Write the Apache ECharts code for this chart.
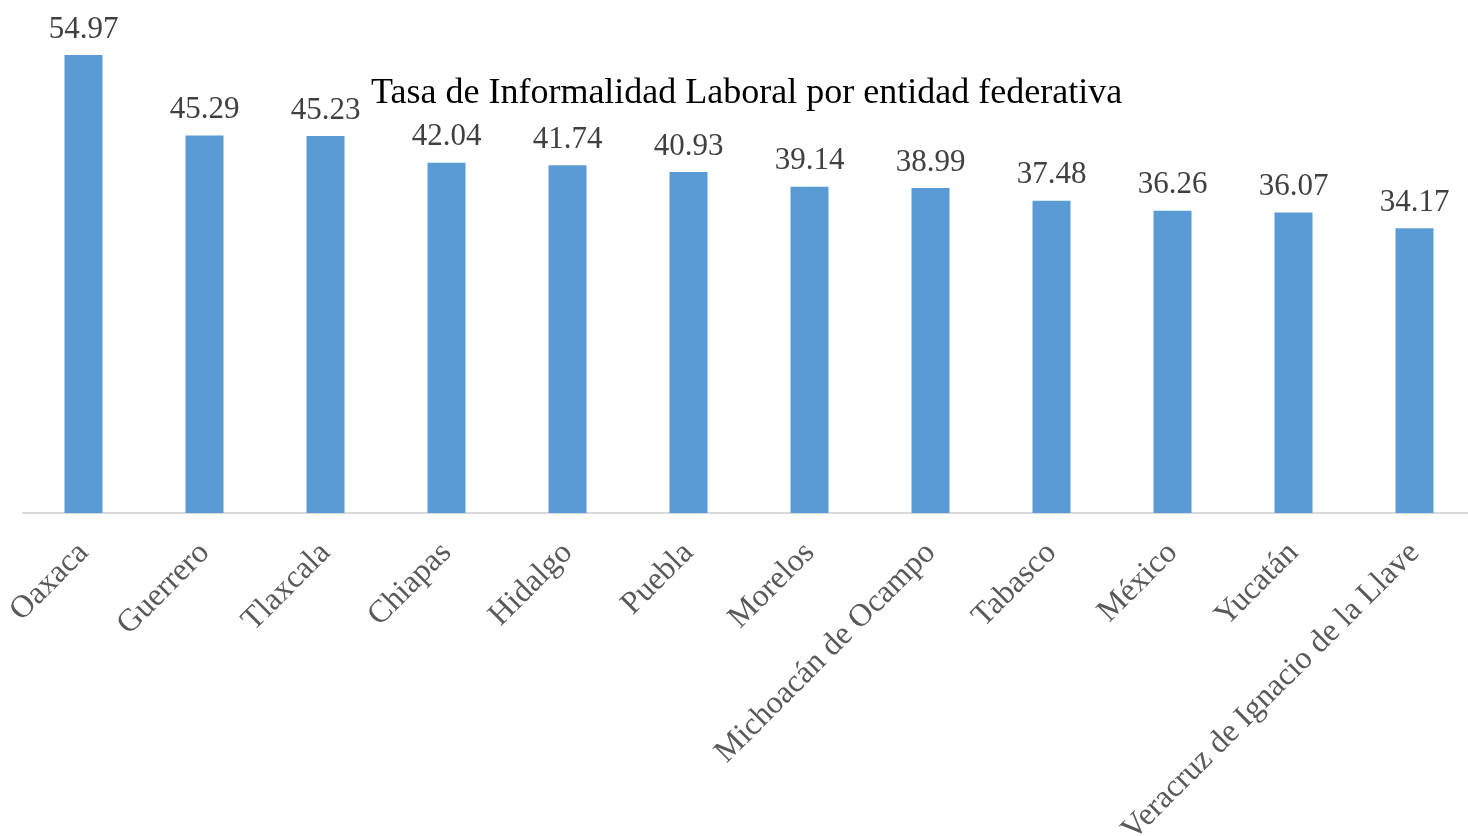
<!DOCTYPE html>
<html>
<head>
<meta charset="utf-8">
<script src="https://cdn.jsdelivr.net/npm/echarts@6/dist/echarts.min.js"></script>
<style>
  html, body { margin: 0; padding: 0; background: #fff; }
  #chart { width: 1468px; height: 836px; }
</style>
</head>
<body>
<div id="chart"></div>
<script>
var estados = ['Oaxaca', 'Guerrero', 'Tlaxcala', 'Chiapas', 'Hidalgo', 'Puebla', 'Morelos',
    'Michoacán de Ocampo', 'Tabasco', 'México', 'Yucatán', 'Veracruz de Ignacio de la Llave'];
var tasas = [54.97, 45.29, 45.23, 42.04, 41.74, 40.93, 39.14, 38.99, 37.48, 36.26, 36.07, 34.17];

var chart = echarts.init(document.getElementById('chart'));

var option = {
    animation: false,
    title: {
        text: 'Tasa de Informalidad Laboral por entidad federativa',
        left: 366,
        top: 71,
        textStyle: {
            fontFamily: 'Liberation Serif',
            fontSize: 36,
            fontWeight: 'normal',
            color: '#000'
        }
    },
    grid: {
        left: 23,
        width: 1452,
        top: 13,
        bottom: 323,
        containLabel: false,
        outerBoundsMode: 'none'
    },
    xAxis: {
        type: 'category',
        data: estados,
        axisLine: { lineStyle: { color: '#d9d9d9', width: 2 } },
        axisTick: { show: false },
        axisLabel: {
            rotate: 45,
            interval: 0,
            margin: 35,
            fontFamily: 'Liberation Serif',
            fontSize: 32,
            color: '#595959'
        }
    },
    yAxis: {
        type: 'value',
        min: 0,
        max: 60,
        show: false,
        splitLine: { show: false }
    },
    series: [{
        type: 'bar',
        data: tasas,
        barWidth: 38,
        itemStyle: { color: '#5b9bd5' },
        label: {
            show: true,
            position: 'top',
            distance: 10,
            fontFamily: 'Liberation Serif',
            fontSize: 31,
            color: '#404040'
        }
    }]
};

chart.setOption(option);
</script>
</body>
</html>
